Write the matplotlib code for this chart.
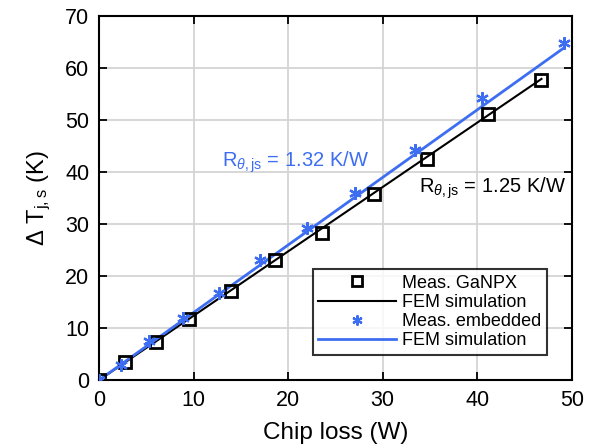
import matplotlib
matplotlib.use("Agg")
import matplotlib.pyplot as plt

plt.rcParams['font.family'] = ['Liberation Sans', 'DejaVu Sans']
plt.rcParams['mathtext.fontset'] = 'custom'
plt.rcParams['mathtext.rm'] = 'Liberation Sans'
plt.rcParams['mathtext.it'] = 'Liberation Sans:italic'

# Data
ganpx_x = [0, 2.75, 6.0, 9.5, 13.9, 18.6, 23.6, 29.1, 34.7, 41.1, 46.8]
ganpx_y = [0, 3.5, 7.4, 11.7, 17.1, 23.1, 28.3, 35.8, 42.5, 51.2, 57.7]
emb_x = [0, 2.3, 5.3, 8.85, 12.7, 17.0, 22.0, 27.1, 33.4, 40.5, 49.2]
emb_y = [0, 2.9, 7.6, 12.0, 16.7, 23.1, 29.3, 36.0, 44.2, 54.2, 64.9]
fem_ganpx_x = [0, 46.8]
fem_ganpx_y = [0, 57.9]
fem_emb_x = [0, 49.2]
fem_emb_y = [0, 63.9]

blue = '#3d6ef2'

fig = plt.figure(figsize=(5.9, 4.44), dpi=100)
ax = fig.add_axes([0.168, 0.144, 0.801, 0.820])

ax.plot(ganpx_x, ganpx_y, linestyle='none', marker='s', markersize=9,
        markerfacecolor='none', markeredgecolor='black', markeredgewidth=2.0,
        label='Meas. GaNPX', zorder=3)
ax.plot(fem_ganpx_x, fem_ganpx_y, color='black', linewidth=1.5,
        label='FEM simulation', zorder=2)
ax.plot(emb_x, emb_y, linestyle='none', marker=(6, 2, 0), markersize=9,
        markeredgecolor=blue, markerfacecolor=blue, markeredgewidth=1.6,
        label='Meas. embedded', zorder=4)
ax.plot(fem_emb_x, fem_emb_y, color=blue, linewidth=2.0,
        label='FEM simulation', zorder=2)

ax.text(13.0, 41.0, r'R$_{\theta\mathrm{,js}}$ = 1.32 K/W', color=blue,
        fontsize=14.5)
ax.text(33.8, 36.0, r'R$_{\theta\mathrm{,js}}$ = 1.25 K/W', color='black',
        fontsize=14.5)

ax.set_xlim(0, 50)
ax.set_ylim(0, 70)
ax.set_xticks([0, 10, 20, 30, 40, 50])
ax.set_yticks([0, 10, 20, 30, 40, 50, 60, 70])
ax.grid(True, color='#d4d4d4', linewidth=1.3)
ax.set_axisbelow(True)
ax.tick_params(direction='in', top=True, right=True, labelsize=15.5,
               length=6, width=1.3, colors='black', pad=7)
for s in ax.spines.values():
    s.set_linewidth(1.5)

ax.set_xlabel('Chip loss (W)', fontsize=17.5, labelpad=8)
ax.set_ylabel(r'$\Delta$ T$_{\mathrm{j,s}}$ (K)', fontsize=17, labelpad=9)

leg = ax.legend(loc='lower right', bbox_to_anchor=(0.966, 0.045),
                fontsize=13, frameon=True, fancybox=False,
                edgecolor='black', handlelength=4.3, borderpad=0.3,
                labelspacing=0.12, handletextpad=0.35, markerscale=0.8)
leg.get_frame().set_linewidth(1.5)

fig.savefig('out.png', dpi=100)
